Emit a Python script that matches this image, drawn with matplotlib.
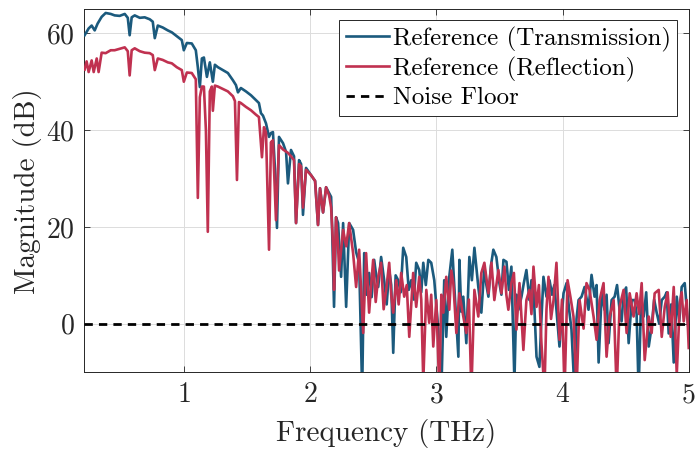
import numpy as np
import matplotlib
matplotlib.use("Agg")
import matplotlib.pyplot as plt

plt.rcParams["font.family"] = "serif"
plt.rcParams["font.serif"] = ["cmr10", "DejaVu Serif"]
plt.rcParams["mathtext.fontset"] = "cm"
plt.rcParams["axes.formatter.use_mathtext"] = True

# Reference spectrum, transmission geometry: (frequency THz, magnitude dB)
trans_points = [
    (0.214, 59.6), (0.246, 61.0), (0.270, 61.6), (0.294, 60.6), (0.317, 62.0),
    (0.349, 63.4), (0.381, 64.2), (0.421, 64.0), (0.452, 63.7), (0.492, 63.6),
    (0.532, 64.0), (0.556, 63.2), (0.571, 59.6), (0.587, 63.3), (0.611, 63.7),
    (0.651, 63.2), (0.690, 63.3), (0.730, 62.9), (0.754, 62.4), (0.770, 59.0),
    (0.794, 61.6), (0.833, 61.2), (0.873, 60.6), (0.905, 60.2), (0.944, 59.4),
    (0.984, 58.6), (1.000, 56.5), (1.024, 58.0), (1.063, 57.9), (1.095, 56.5),
    (1.111, 53.0), (1.127, 48.9), (1.143, 54.8), (1.159, 55.0), (1.183, 51.0),
    (1.206, 54.0), (1.230, 50.0), (1.246, 53.5), (1.270, 53.0), (1.310, 52.4),
    (1.349, 51.8), (1.389, 50.3), (1.413, 49.3), (1.429, 47.8), (1.452, 48.7),
    (1.492, 48.0), (1.532, 47.2), (1.571, 46.2), (1.595, 45.6), (1.611, 43.5),
    (1.627, 43.0), (1.651, 41.4), (1.675, 38.6), (1.690, 39.4), (1.706, 39.6),
    (1.722, 32.0), (1.738, 19.8), (1.754, 38.6), (1.786, 37.3), (1.810, 35.5),
    (1.825, 29.0), (1.849, 35.9), (1.873, 34.6), (1.889, 20.8), (1.913, 33.8),
    (1.929, 33.0), (1.944, 22.5), (1.968, 32.2), (2.008, 30.7), (2.040, 29.5),
    (2.063, 20.4), (2.079, 28.0), (2.103, 23.0), (2.127, 28.2), (2.151, 27.0),
    (2.167, 26.2), (2.175, 19.4), (2.190, 3.5), (2.206, 22.0), (2.222, 20.8),
    (2.246, 9.7), (2.262, 20.8), (2.286, 3.5), (2.310, 20.8), (2.341, 19.4),
    (2.365, 14.8), (2.389, 12.6), (2.413, -14.0), (2.429, 14.6), (2.448, 6.0),
    (2.468, 10.5), (2.488, 5.5), (2.508, 13.2), (2.524, 10.0), (2.540, 7.6),
    (2.563, 13.8), (2.587, 9.0), (2.607, 4.0), (2.627, 11.1), (2.643, 8.0),
    (2.659, -6.0), (2.678, 10.0), (2.698, 9.0), (2.718, 6.5), (2.738, 15.7),
    (2.762, 13.8), (2.782, 7.0), (2.802, 9.0), (2.822, 5.0), (2.841, 12.6),
    (2.865, 11.1), (2.881, 6.5), (2.897, 12.6), (2.917, 8.0), (2.937, 13.2),
    (2.960, 12.6), (2.984, 9.0), (3.000, 4.0), (3.016, -1.2), (3.040, -14.0),
    (3.063, 9.0), (3.079, -2.7), (3.103, 9.7), (3.127, 15.3), (3.143, 7.6),
    (3.175, -6.8), (3.183, 13.2), (3.198, 2.5), (3.214, 5.6), (3.238, -4.0),
    (3.262, 13.8), (3.282, 9.0), (3.302, 15.7), (3.333, 7.6), (3.357, 2.3),
    (3.381, 11.8), (3.397, 8.0), (3.413, 5.6), (3.433, 12.0), (3.452, 15.3),
    (3.476, 13.8), (3.500, 8.4), (3.516, 6.0), (3.532, 13.2), (3.556, 12.8),
    (3.575, 7.0), (3.595, 11.8), (3.619, -12.0), (3.635, 6.0), (3.651, 2.9),
    (3.675, 5.6), (3.694, 8.5), (3.714, 11.1), (3.738, 4.9), (3.754, 9.0),
    (3.770, 7.6), (3.794, -6.8), (3.817, -8.9), (3.833, 1.0), (3.849, 9.7),
    (3.873, 5.6), (3.897, 9.0), (3.917, 6.0), (3.935, 8.0), (3.952, 2.9),
    (3.976, -4.7), (4.008, 6.3), (4.032, 8.4), (4.052, 3.0), (4.071, -1.2),
    (4.095, -14.0), (4.111, 1.0), (4.127, 4.9), (4.151, 5.6), (4.175, 7.6),
    (4.206, 2.9), (4.230, 10.1), (4.254, 5.6), (4.270, 8.0), (4.286, -8.0),
    (4.310, 6.3), (4.333, 2.9), (4.349, 6.0), (4.365, -4.0), (4.389, 4.9),
    (4.413, 5.6), (4.432, 8.0), (4.452, 2.9), (4.468, 0.5), (4.484, 6.3),
    (4.504, 7.5), (4.524, -4.0), (4.548, 4.9), (4.571, 4.9), (4.587, 2.0),
    (4.603, -14.0), (4.623, 5.5), (4.643, 1.5), (4.663, 6.5), (4.683, -4.7),
    (4.706, -0.6), (4.726, 5.0), (4.746, 2.3), (4.766, 0.0), (4.786, 4.9),
    (4.810, 5.6), (4.825, 6.5), (4.841, -2.0), (4.861, 4.0), (4.881, -8.0),
    (4.905, 5.6), (4.925, 0.5), (4.944, 7.6), (4.968, 8.4), (5.000, -1.9),
]

# Reference spectrum, reflection geometry: (frequency THz, magnitude dB)
refl_points = [
    (0.214, 52.5), (0.230, 54.2), (0.246, 52.0), (0.270, 54.4), (0.286, 52.0),
    (0.310, 54.8), (0.325, 52.0), (0.349, 56.0), (0.381, 55.9), (0.421, 56.5),
    (0.452, 56.5), (0.492, 56.8), (0.532, 57.1), (0.556, 56.3), (0.571, 51.3),
    (0.587, 56.5), (0.611, 56.9), (0.651, 56.3), (0.690, 56.0), (0.730, 55.9),
    (0.754, 55.5), (0.770, 52.4), (0.794, 54.8), (0.833, 54.5), (0.873, 54.0),
    (0.905, 53.8), (0.944, 53.0), (0.984, 52.4), (1.000, 50.0), (1.024, 51.9),
    (1.063, 51.8), (1.095, 50.5), (1.111, 26.0), (1.127, 46.8), (1.143, 49.0),
    (1.159, 49.0), (1.175, 40.0), (1.190, 19.0), (1.206, 48.0), (1.222, 49.0),
    (1.230, 44.0), (1.246, 49.2), (1.270, 49.0), (1.310, 48.5), (1.349, 48.0),
    (1.389, 47.0), (1.405, 46.0), (1.421, 29.7), (1.437, 45.8), (1.452, 45.6),
    (1.492, 44.8), (1.532, 44.1), (1.571, 43.2), (1.595, 42.7), (1.619, 34.4),
    (1.635, 40.6), (1.651, 39.5), (1.675, 15.3), (1.690, 37.5), (1.706, 37.9),
    (1.730, 21.4), (1.754, 36.9), (1.786, 36.0), (1.825, 35.3), (1.849, 34.6),
    (1.873, 33.8), (1.889, 20.8), (1.913, 33.0), (1.929, 32.5), (1.944, 24.0),
    (1.968, 31.8), (2.008, 30.7), (2.040, 29.5), (2.063, 20.4), (2.079, 28.0),
    (2.103, 23.0), (2.127, 28.2), (2.151, 26.5), (2.167, 24.0), (2.183, 15.9),
    (2.190, 7.0), (2.206, 22.0), (2.222, 16.0), (2.230, 11.0), (2.262, 19.4),
    (2.286, 16.0), (2.310, 20.8), (2.341, 14.6), (2.365, 7.6), (2.389, 15.3),
    (2.421, -1.9), (2.444, 14.6), (2.468, 2.3), (2.484, 8.0), (2.500, 13.2),
    (2.520, 4.5), (2.540, 9.7), (2.563, 12.6), (2.583, 3.0), (2.603, 7.0),
    (2.627, 12.6), (2.643, 6.0), (2.659, 2.3), (2.683, 9.0), (2.702, 4.0),
    (2.722, 10.5), (2.746, 5.6), (2.766, 8.0), (2.786, -2.7), (2.817, 10.5),
    (2.841, 3.5), (2.865, 9.7), (2.881, 5.0), (2.897, -12.0), (2.921, 7.0),
    (2.944, 0.2), (2.960, 6.0), (2.976, -4.7), (3.000, 4.9), (3.024, -14.0),
    (3.040, 6.0), (3.056, 2.3), (3.079, 9.7), (3.103, 2.9), (3.119, 11.0),
    (3.135, 8.4), (3.159, -1.9), (3.183, 6.3), (3.214, 1.5), (3.238, -1.9),
    (3.258, 5.0), (3.278, -14.0), (3.302, 7.0), (3.333, 1.5), (3.357, 10.5),
    (3.381, 12.6), (3.413, 6.3), (3.437, 12.6), (3.460, 4.9), (3.492, 11.1),
    (3.516, 6.3), (3.540, 11.8), (3.555, 6.0), (3.571, 2.9), (3.595, 8.4),
    (3.615, 10.5), (3.635, -1.2), (3.659, 8.4), (3.690, -5.4), (3.714, 4.9),
    (3.738, 7.0), (3.754, 2.0), (3.770, 11.8), (3.794, 3.5), (3.813, 8.0),
    (3.833, -4.0), (3.857, -14.0), (3.873, 3.0), (3.889, 9.7), (3.909, 1.0),
    (3.929, 4.9), (3.952, 12.6), (3.976, -3.3), (3.996, 5.0), (4.016, -14.0),
    (4.040, 9.0), (4.063, 5.5), (4.087, 1.5), (4.111, -14.0), (4.135, 4.9),
    (4.167, -1.0), (4.190, 8.4), (4.214, 7.0), (4.246, 1.5), (4.270, -3.3),
    (4.294, 4.9), (4.325, 8.4), (4.349, -6.8), (4.373, 1.5), (4.405, 4.9),
    (4.429, -14.0), (4.452, 3.5), (4.484, 7.0), (4.508, -1.9), (4.532, 6.3),
    (4.563, 1.5), (4.587, 6.3), (4.607, 2.0), (4.627, 8.4), (4.651, -7.5),
    (4.683, 1.5), (4.706, -1.9), (4.730, 6.3), (4.762, 7.0), (4.786, -2.7),
    (4.810, 3.5), (4.833, 6.5), (4.857, -2.7), (4.881, 7.6), (4.905, -10.5),
    (4.929, 4.2), (4.944, 6.5), (4.960, 0.5), (4.984, 4.9), (5.000, -5.0),
]

noise_floor_db = 0.0

freq_trans, mag_trans = zip(*trans_points)
freq_refl, mag_refl = zip(*refl_points)

color_trans = "#1b5a7d"
color_refl = "#c03150"

fig = plt.figure(figsize=(6.95, 4.55), dpi=100)
ax = fig.add_axes([0.121, 0.182, 0.870, 0.798])

ax.plot(freq_trans, mag_trans, color=color_trans, lw=1.9,
        label="Reference (Transmission)", zorder=3)
ax.plot(freq_refl, mag_refl, color=color_refl, lw=1.9,
        label="Reference (Reflection)", zorder=4)
ax.axhline(noise_floor_db, color="black", lw=2.0, ls=(0, (3, 2.2)),
           label="Noise Floor", zorder=5)

ax.set_xlim(0.21, 5.0)
ax.set_ylim(-10, 65)
ax.set_xticks([1, 2, 3, 4, 5])
ax.set_yticks([0, 20, 40, 60])
ax.grid(True, color="#dcdcdc", lw=0.7)
ax.set_axisbelow(True)

ax.tick_params(direction="in", length=4, width=0.6, top=True, right=True,
               labelsize=20, colors="#262626", pad=7)
for s in ax.spines.values():
    s.set_color("#262626")
    s.set_linewidth(0.7)

ax.set_xlabel("Frequency (THz)", fontsize=21, color="#262626", labelpad=8)
ax.set_ylabel("Magnitude (dB)", fontsize=21, color="#262626", labelpad=3)

leg = ax.legend(loc="upper right", fontsize=18, frameon=True, fancybox=False,
                framealpha=1, edgecolor="#262626", borderpad=0.25,
                labelspacing=0.2, handlelength=1.75, handletextpad=0.15,
                borderaxespad=0.45)
leg.get_frame().set_linewidth(0.7)

fig.savefig("out.png", dpi=100)
